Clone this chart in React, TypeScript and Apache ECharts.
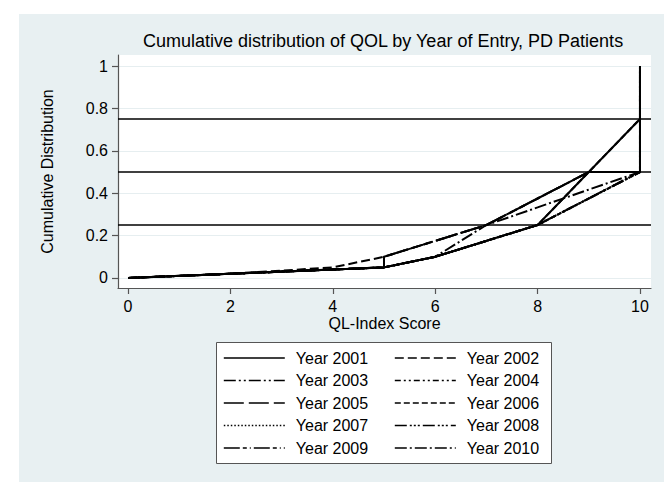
import { useEffect, useRef } from 'react';
import * as echarts from 'echarts';

const FONT = '"Liberation Sans", Arial, Helvetica, sans-serif';

const titleText = 'Cumulative distribution of QOL by Year of Entry, PD Patients';
const xAxisTitle = 'QL-Index Score';
const yAxisTitle = 'Cumulative Distribution';

const xTicks = [0, 2, 4, 6, 8, 10];
const yTicks = [0, 0.2, 0.4, 0.6, 0.8, 1];
const refLines = [0.25, 0.5, 0.75];

const years = [
  'Year 2001', 'Year 2002', 'Year 2003', 'Year 2004', 'Year 2005',
  'Year 2006', 'Year 2007', 'Year 2008', 'Year 2009', 'Year 2010',
];

const y2001 = [[0, 0], [2, 0.02], [4, 0.04], [5, 0.05], [6, 0.1], [8, 0.25], [10, 0.75], [10, 1]];
const y2002 = [[0, 0], [2, 0.02], [4, 0.05], [5, 0.1], [6, 0.175], [7, 0.25], [8, 0.375], [9, 0.5], [10, 0.5], [10, 1]];
const y2003 = [[0, 0], [2, 0.02], [4, 0.04], [5, 0.05], [6, 0.1], [8, 0.25], [10, 0.5], [10, 1]];
const y2004 = [[0, 0], [2, 0.02], [4, 0.04], [5, 0.05], [6, 0.1], [8, 0.25], [10, 0.5], [10, 1]];
const y2005 = [[0, 0], [2, 0.02], [4, 0.04], [5, 0.05], [5, 0.1], [6, 0.175], [7, 0.25], [8, 0.375], [9, 0.5], [10, 0.5], [10, 1]];
const y2006 = [[0, 0], [2, 0.02], [4, 0.04], [5, 0.05], [6, 0.1], [8, 0.25], [9, 0.5], [10, 0.75], [10, 1]];
const y2007 = [[0, 0], [2, 0.02], [4, 0.04], [5, 0.05], [6, 0.1], [8, 0.25], [10, 0.5], [10, 1]];
const y2008 = [[0, 0], [2, 0.02], [4, 0.04], [5, 0.05], [6, 0.1], [8, 0.25], [10, 0.5], [10, 1]];
const y2009 = [[0, 0], [2, 0.02], [4, 0.04], [5, 0.05], [5, 0.1], [6, 0.175], [7, 0.25], [8, 0.375], [9, 0.5], [10, 0.5], [10, 1]];
const y2010 = [[0, 0], [2, 0.02], [4, 0.04], [5, 0.05], [6, 0.1], [7, 0.25], [8, 0.333], [9, 0.417], [10, 0.5], [10, 1]];

const seriesValues = [y2001, y2002, y2003, y2004, y2005, y2006, y2007, y2008, y2009, y2010];

// Stata-like line patterns
const dashPatterns: any[] = [
  'solid',
  [9, 4],
  [12, 3, 2, 3, 2, 3],
  [6, 3, 2, 3, 2, 3],
  [20, 5],
  [6, 3],
  [1.5, 2],
  [12, 3, 2, 2, 2, 2, 2, 3],
  [16, 3, 4, 3, 1, 3],
  [12, 3, 2, 3],
];
const dashOffsets = [0, 0, 0, 7, 3, 4, 0, 5, 9, 0];

export default function App() {
  const ref = useRef<HTMLDivElement>(null);

  useEffect(() => {
    const chart = echarts.init(ref.current!, null, { renderer: 'svg' });

    const series: any[] = years.map((name, i) => ({
      name,
      type: 'line',
      data: seriesValues[i],
      symbol: 'none',
      showSymbol: false,
      silent: true,
      lineStyle: { color: '#000', width: 2, type: dashPatterns[i], dashOffset: dashOffsets[i] },
      itemStyle: { color: '#000' },
      emphasis: { disabled: true },
      z: 3,
    }));
    series[0].markLine = {
      silent: true,
      symbol: ['none', 'none'],
      label: { show: false },
      emphasis: { disabled: true },
      lineStyle: { color: '#000', width: 1.5, type: 'solid' },
      data: refLines.map((v) => ({ yAxis: v })),
    };

    const col1 = years.filter((_, i) => i % 2 === 0);
    const col2 = years.filter((_, i) => i % 2 === 1);
    const legendBase = {
      orient: 'vertical',
      top: 350,
      padding: 0,
      itemWidth: 61,
      itemHeight: 16,
      itemGap: 6.5,
      selectedMode: false,
      itemStyle: { opacity: 0, borderWidth: 0 },
      lineStyle: { width: 1.6, dashOffset: 0 },
      textStyle: { fontSize: 16, lineHeight: 16, color: '#000', fontFamily: FONT, padding: [0, 0, 0, 6] },
    };

    chart.setOption({
      animation: false,
      textStyle: { fontFamily: FONT },
      graphic: [
        { type: 'rect', z: -10, silent: true, shape: { x: 19, y: 14, width: 645, height: 468 }, style: { fill: '#e8f0f2' } },
        { type: 'rect', z: 1, silent: true, shape: { x: 216.5, y: 342.5, width: 335, height: 121 }, style: { fill: '#fff', stroke: '#555', lineWidth: 1 } },
        {
          type: 'text', z: 1, silent: true, x: 383, y: 41,
          style: { text: titleText, align: 'center', verticalAlign: 'middle', font: `18px ${FONT}`, fill: '#000' },
        },
      ],
      grid: { left: 118, top: 55, width: 533, height: 233, show: true, backgroundColor: '#fff', borderWidth: 0 },
      xAxis: {
        type: 'value',
        min: -0.1953,
        max: 10.215,
        name: xAxisTitle,
        nameLocation: 'middle',
        nameGap: 27,
        nameTextStyle: { fontSize: 16, color: '#000', fontFamily: FONT },
        axisLine: { show: true, onZero: false, lineStyle: { color: '#555', width: 1.2 } },
        axisTick: { show: true, length: 6, customValues: xTicks, lineStyle: { color: '#555', width: 1.2 } },
        axisLabel: { customValues: xTicks, fontSize: 16, color: '#000', margin: 10, fontFamily: FONT },
        splitLine: { show: false },
      },
      yAxis: {
        type: 'value',
        min: -0.0472,
        max: 1.0519,
        name: yAxisTitle,
        nameLocation: 'middle',
        nameGap: 63,
        nameTextStyle: { fontSize: 16, color: '#000', fontFamily: FONT },
        axisLine: { show: true, onZero: false, lineStyle: { color: '#555', width: 1.2 } },
        axisTick: { show: true, length: 6, customValues: yTicks, lineStyle: { color: '#555', width: 1.2 } },
        axisLabel: { customValues: yTicks, fontSize: 16, color: '#000', margin: 10, fontFamily: FONT },
        splitLine: { show: true, lineStyle: { color: '#e6eef0', width: 1 } },
      },
      legend: [
        { ...legendBase, left: 223, data: col1 },
        { ...legendBase, left: 394, data: col2 },
      ],
      series,
    });

    return () => chart.dispose();
  }, []);

  return <div ref={ref} style={{ position: 'absolute', left: 0, top: 0, width: 664, height: 482 }} />;
}
